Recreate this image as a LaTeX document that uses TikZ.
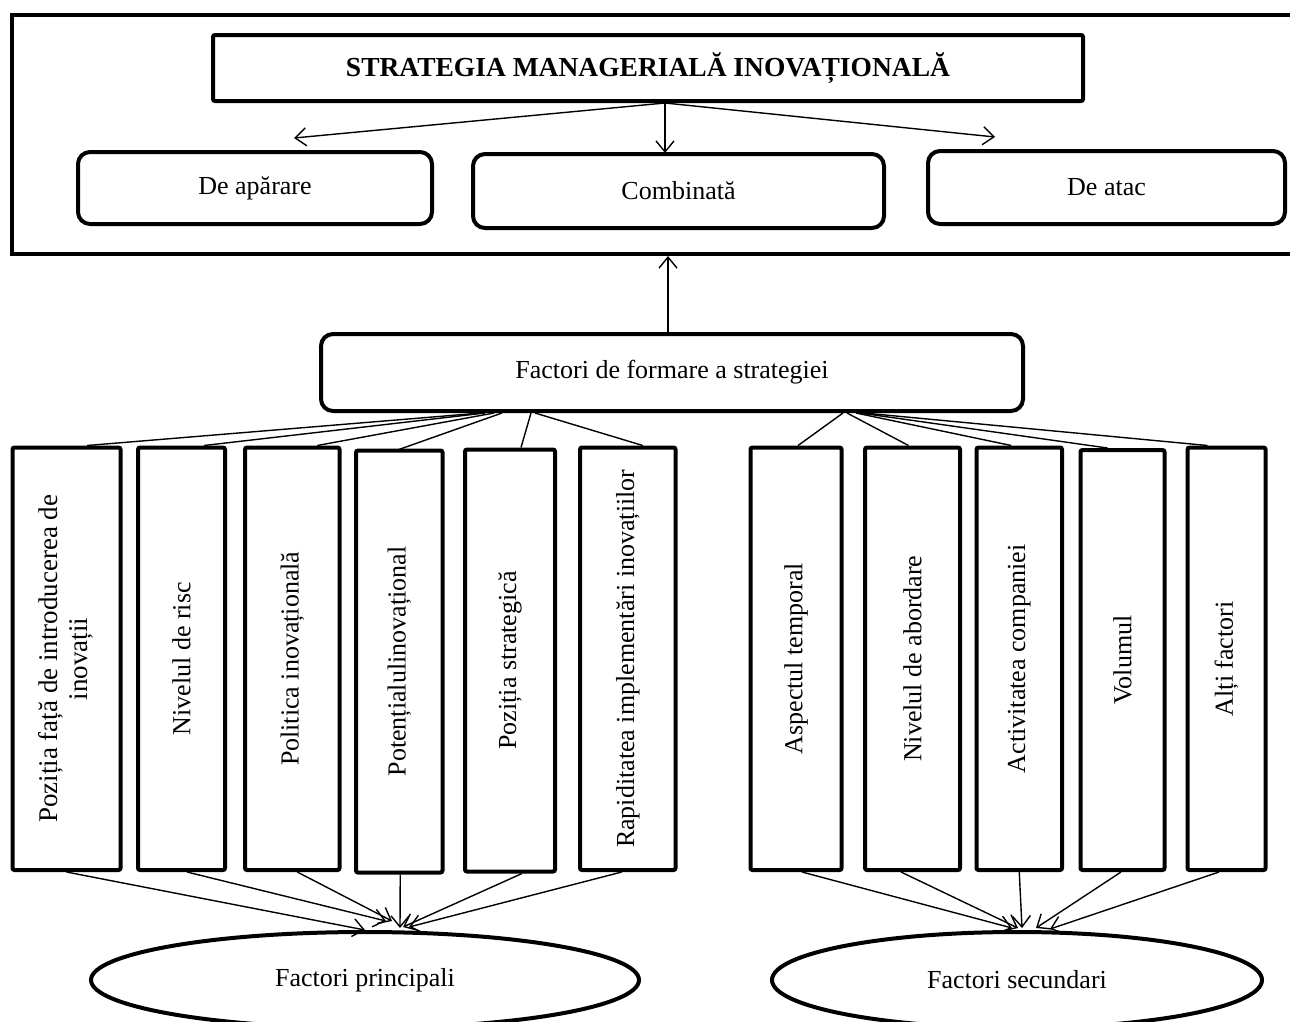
\documentclass[tikz,border=0pt]{standalone}
\usepackage{fontspec}
\usepackage{graphicx}
\setmainfont{Liberation Serif}
\usetikzlibrary{arrows.meta,shapes.geometric}
\begin{document}
\begin{tikzpicture}[x=1pt,y=-1pt,
  every node/.style={inner sep=0pt, font=\fontsize{26}{30}\selectfont},
  heavy/.style={draw, line width=4pt},
  rbox/.style={heavy, rounded corners=12pt},
  vbox/.style={heavy, rounded corners=2pt, align=center},
  oval/.style={draw, ellipse, line width=4pt},
  conn/.style={line width=1.4pt},
  arr/.style={line width=1.4pt, -{Straight Barb[length=11pt,width=18pt,line width=1.4pt]}},
]
\useasboundingbox (0,0) rectangle (1290,1021);
\clip (0,0) rectangle (1290,1021);

% outer frame
\node[heavy, minimum width=1284pt, minimum height=239pt] (frame) at (654,134.5) {};
% title
\node[heavy, rounded corners=2pt, minimum width=870pt, minimum height=66pt, font=\fontsize{27.5}{30}\selectfont\bfseries] (title) at (648,68) {STRATEGIA MANAGERIALĂ INOVAȚIONALĂ};
% strategy types
\node[rbox, minimum width=354pt, minimum height=72pt] (def) at (255,188) {De apărare};
\node[rbox, minimum width=411pt, minimum height=74pt] (comb) at (678.5,191) {Combinată};
\node[rbox, minimum width=357pt, minimum height=73pt] (atac) at (1106.5,187.5) {De atac};

\coordinate (ts) at (665,103);
\coordinate (tl) at (294,138);
\coordinate (tc) at (665,153);
\coordinate (tr) at (995,137);
\draw[arr] (ts) -- (tl);
\draw[arr] (ts) -- (tc);
\draw[arr] (ts) -- (tr);

% factors box
\node[rbox, minimum width=702pt, minimum height=77pt] (fact) at (672,372.5) {Factori de formare a strategiei};
\draw[arr] ([xshift=-4pt]fact.north) -- ([xshift=-4pt]fact.north |- frame.south);

% vertical boxes
\node[vbox, minimum width=108pt, minimum height=422.5pt] (b1) at (66.5,658.75) {\rotatebox{90}{\fontsize{27}{30}\selectfont\begin{tabular}{@{}c@{}}Poziția față de introducerea de\\inovații\end{tabular}}};
\node[vbox, minimum width=87pt, minimum height=422.5pt] (b2) at (181.5,658.75) {\rotatebox{90}{Nivelul de risc}};
\node[vbox, minimum width=94.5pt, minimum height=422.5pt] (b3) at (292.25,658.75) {\rotatebox{90}{Politica inovațională}};
\node[vbox, minimum width=86.5pt, minimum height=422pt] (b4) at (399.25,661.5) {\rotatebox{90}{Potențialulinovațional}};
\node[vbox, minimum width=90pt, minimum height=422pt] (b5) at (510,660.5) {\rotatebox{90}{Poziția strategică}};
\node[vbox, minimum width=95.5pt, minimum height=422.5pt] (b6) at (627.75,658.75) {\rotatebox{90}{Rapiditatea implementări inovațiilor}};
\node[vbox, minimum width=91pt, minimum height=422.5pt] (b7) at (796,658.75) {\rotatebox{90}{Aspectul temporal}};
\node[vbox, minimum width=95pt, minimum height=422.5pt] (b8) at (912.5,658.75) {\rotatebox{90}{Nivelul de abordare}};
\node[vbox, minimum width=85.5pt, minimum height=422.5pt] (b9) at (1019.25,658.75) {\rotatebox{90}{Activitatea companiei}};
\node[vbox, minimum width=84pt, minimum height=420pt] (b10) at (1122.5,660) {\rotatebox{90}{Volumul}};
\node[vbox, minimum width=78pt, minimum height=422.5pt] (b11) at (1226.5,658.75) {\rotatebox{90}{Alți factori}};

% connectors from factors box
\draw[conn] ([xshift=-191pt]fact.south) -- ([xshift=20.5pt]b1.north);
\draw[conn] ([xshift=-187pt]fact.south) -- ([xshift=22.5pt]b2.north);
\draw[conn] ([xshift=-178pt]fact.south) -- ([xshift=25pt]b3.north);
\draw[conn] ([xshift=-170pt]fact.south) -- ([xshift=-6pt,yshift=-3pt]b4.north);
\draw[conn] ([xshift=-141pt]fact.south) -- ([xshift=11pt]b5.north);
\draw[conn] ([xshift=-137pt]fact.south) -- ([xshift=15pt]b6.north);
\draw[conn] ([xshift=171pt]fact.south) -- ([xshift=2pt]b7.north);
\draw[conn] ([xshift=175pt]fact.south) -- ([xshift=-4pt]b8.north);
\draw[conn] ([xshift=184pt]fact.south) -- ([xshift=-8pt]b9.north);
\draw[conn] ([xshift=188pt]fact.south) -- ([xshift=-15pt]b10.north);
\draw[conn] ([xshift=192pt]fact.south) -- ([xshift=-19pt]b11.north);

% ellipses
\node[oval, minimum width=548pt, minimum height=96pt] (ep) at (365,980) {Factori principali};
\node[oval, minimum width=490pt, minimum height=96pt] (es) at (1017,980) {Factori secundari};

% arrows to ellipses
\draw[arr] (b1.south) -- ([xshift=0pt]ep.north);
\draw[arr] ([xshift=5.5pt]b2.south) -- ([xshift=21pt,yshift=9pt]ep.north);
\draw[arr] ([xshift=5pt]b3.south) -- ([xshift=27pt,yshift=9pt]ep.north);
\draw[arr] ([xshift=1pt]b4.south) -- ([xshift=35pt,yshift=2pt]ep.north);
\draw[arr] ([xshift=12pt]b5.south) -- ([xshift=38pt,yshift=3pt]ep.north);
\draw[arr] ([xshift=-6pt]b6.south) -- ([xshift=44pt,yshift=3pt]ep.north);

\draw[arr] ([xshift=6pt]b7.south) -- ([xshift=-5pt,yshift=2pt]es.north);
\draw[arr] ([xshift=-11.5pt]b8.south) -- ([xshift=1pt,yshift=2pt]es.north);
\draw[arr] (b9.south) -- ([xshift=5pt,yshift=2pt]es.north);
\draw[arr] ([xshift=-1.5pt]b10.south) -- ([xshift=19pt,yshift=2pt]es.north);
\draw[arr] ([xshift=-7.5pt]b11.south) -- ([xshift=33pt,yshift=1pt]es.north);
\end{tikzpicture}
\end{document}
